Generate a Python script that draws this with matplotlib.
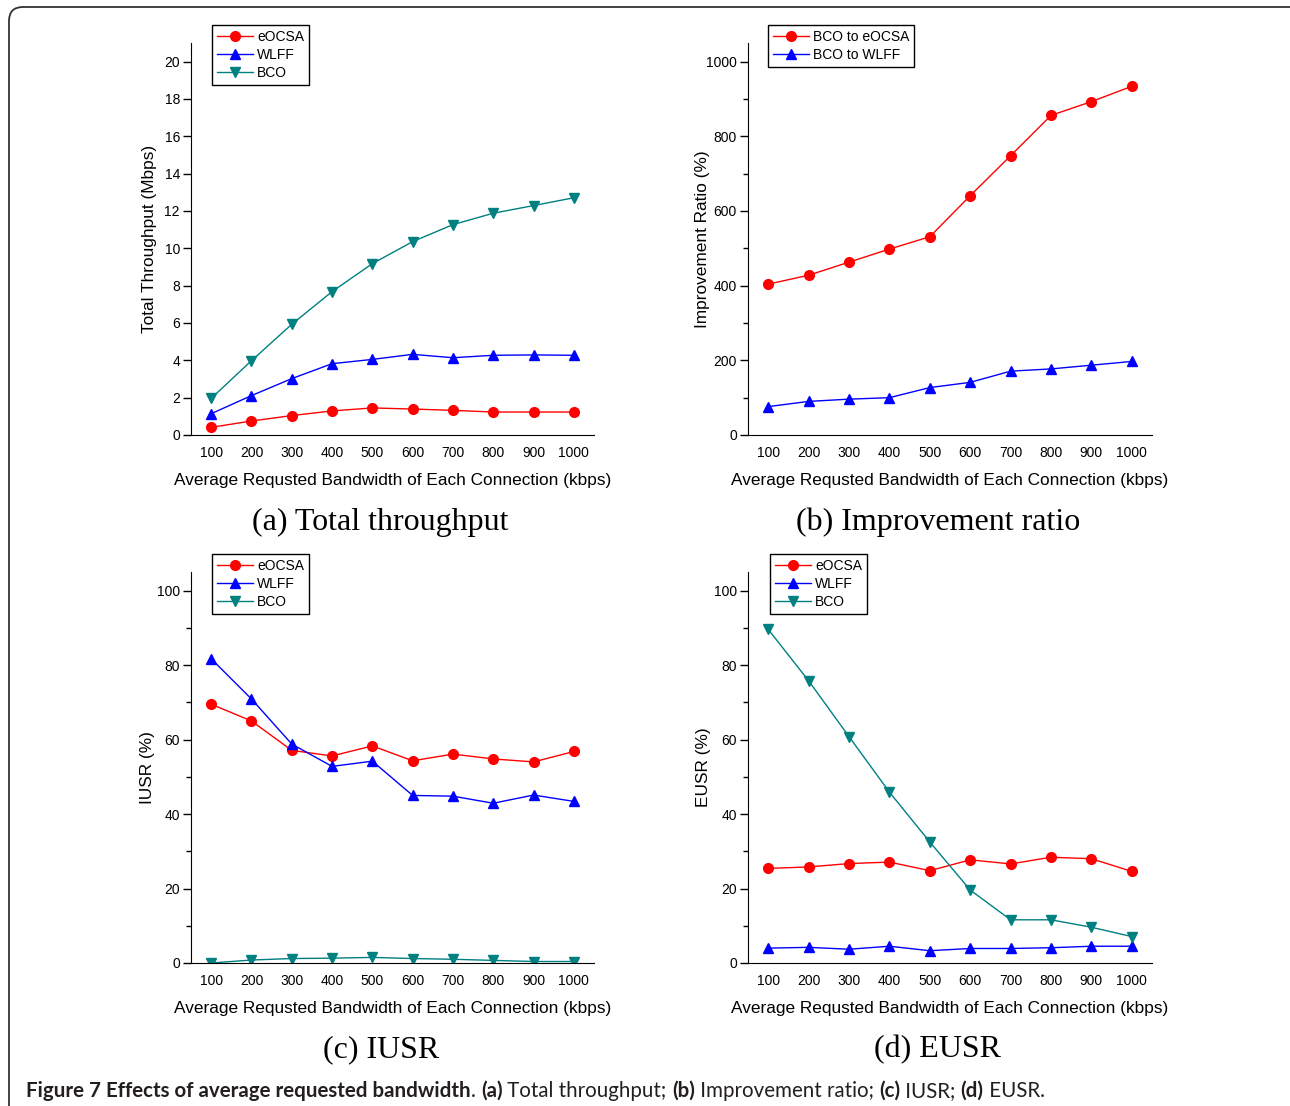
import matplotlib
matplotlib.use('Agg')
import matplotlib.pyplot as plt  # Plotting
import numpy as np  # Arrays
from matplotlib.patches import FancyBboxPatch
from matplotlib.transforms import IdentityTransform

# Data
bandwidth = [100, 200, 300, 400, 500, 600, 700, 800, 900, 1000]

thr_eocsa = [0.41, 0.75, 1.04, 1.29, 1.45, 1.39, 1.32, 1.23, 1.23, 1.23]
thr_wlff = [1.14, 2.11, 3.02, 3.82, 4.05, 4.32, 4.14, 4.27, 4.29, 4.27]
thr_bco = [1.96, 3.98, 5.93, 7.68, 9.18, 10.36, 11.27, 11.88, 12.29, 12.71]

imp_eocsa = [404, 428, 463, 498, 531, 641, 748, 856, 893, 934]
imp_wlff = [76, 90, 96, 100, 127, 141, 171, 177, 187, 197]

iusr_eocsa = [69.5, 65.0, 57.1, 55.6, 58.3, 54.3, 56.1, 54.8, 54.0, 56.8]
iusr_wlff = [81.7, 70.9, 58.8, 52.8, 54.2, 45.0, 44.8, 42.9, 45.1, 43.4]
iusr_bco = [0.0, 0.8, 1.2, 1.3, 1.5, 1.2, 1.0, 0.7, 0.4, 0.4]

eusr_eocsa = [25.4, 25.8, 26.7, 27.1, 24.8, 27.7, 26.6, 28.4, 28.0, 24.6]
eusr_wlff = [4.0, 4.2, 3.7, 4.5, 3.3, 3.9, 3.9, 4.1, 4.5, 4.5]
eusr_bco = [89.6, 75.8, 60.8, 45.9, 32.5, 19.6, 11.6, 11.6, 9.6, 7.1]

RED = '#ff0000'
BLUE = '#0000ff'
TEAL = '#008080'

plt.rcParams['font.family'] = ['Liberation Sans', 'DejaVu Sans']

W, H = 1290, 1106
fig = plt.figure(figsize=(W / 100, H / 100), dpi=100)

# frame round the whole figure
frame = FancyBboxPatch((9, -30), 1310, H - 7 + 30,
                       boxstyle="round,pad=0,rounding_size=14",
                       transform=IdentityTransform(), facecolor='none',
                       edgecolor='#333333', linewidth=1.3)
fig.add_artist(frame)


def px_axes(left, top, right, bottom):
    return fig.add_axes([left / W, 1 - bottom / H, (right - left) / W, (bottom - top) / H])


def style_axes(ax, ylim, major, ylabel, label_gap):
    ax.set_xlim(50, 1050)
    ax.set_ylim(0, ylim)
    ax.set_xticks(bandwidth)
    ax.set_yticks(np.arange(0, ylim, major))
    ax.set_yticks(np.arange(major / 2, ylim, major), minor=True)
    ax.spines['top'].set_visible(False)
    ax.spines['right'].set_visible(False)
    ax.tick_params(axis='x', length=0, pad=8, labelsize=10)
    ax.tick_params(axis='y', which='major', length=6, width=1, direction='out', pad=2, labelsize=10)
    ax.tick_params(axis='y', which='minor', length=3.5, width=1, direction='out')
    ax.set_xlabel('Average Requsted Bandwidth of Each Connection (kbps)', fontsize=12.4, labelpad=9)
    ax.set_ylabel(ylabel, fontsize=12.4)
    ax.yaxis.set_label_coords(-label_gap / 403, 0.5)


def legend_at(ax, left, top):
    ax.legend(loc='upper left', bbox_to_anchor=(left / W, 1 - top / H),
              bbox_transform=fig.transFigure, frameon=True, fancybox=False,
              edgecolor='black', fontsize=10, handlelength=2.6, handletextpad=0.3,
              labelspacing=0.3, borderpad=0.35, borderaxespad=0, framealpha=1)


mk = dict(markersize=7, linewidth=1)

# (a) Total throughput
ax = px_axes(191, 43, 594, 435)
ax.plot(bandwidth, thr_eocsa, color=RED, marker='o', label='eOCSA', **mk)
ax.plot(bandwidth, thr_wlff, color=BLUE, marker='^', label='WLFF', **mk)
ax.plot(bandwidth, thr_bco, color=TEAL, marker='v', label='BCO', **mk)
style_axes(ax, 21, 2, 'Total Throughput (Mbps)', 34)
ax.set_yticks(np.arange(0, 21, 2))
ax.set_yticks([], minor=True)
legend_at(ax, 212, 25)

# (b) Improvement ratio
ax = px_axes(748, 43, 1152, 435)
ax.plot(bandwidth, imp_eocsa, color=RED, marker='o', label='BCO to eOCSA', **mk)
ax.plot(bandwidth, imp_wlff, color=BLUE, marker='^', label='BCO to WLFF', **mk)
style_axes(ax, 1050, 200, 'Improvement Ratio (%)', 38)
legend_at(ax, 768, 25)

# (c) IUSR
ax = px_axes(191, 572, 594, 963)
ax.plot(bandwidth, iusr_eocsa, color=RED, marker='o', label='eOCSA', **mk)
ax.plot(bandwidth, iusr_wlff, color=BLUE, marker='^', label='WLFF', **mk)
ax.plot(bandwidth, iusr_bco, color=TEAL, marker='v', label='BCO', **mk)
style_axes(ax, 105, 20, 'IUSR (%)', 36)
legend_at(ax, 212, 554)

# (d) EUSR
ax = px_axes(748, 572, 1152, 963)
ax.plot(bandwidth, eusr_eocsa, color=RED, marker='o', label='eOCSA', **mk)
ax.plot(bandwidth, eusr_wlff, color=BLUE, marker='^', label='WLFF', **mk)
ax.plot(bandwidth, eusr_bco, color=TEAL, marker='v', label='BCO', **mk)
style_axes(ax, 105, 20, 'EUSR (%)', 37)
legend_at(ax, 770, 554)

# panel titles
serif = ['Liberation Serif', 'DejaVu Serif']
fig.text(380 / W, 1 - 522 / H, '(a) Total throughput', family=serif, fontsize=23, ha='center', va='center')
fig.text(938 / W, 1 - 522 / H, '(b) Improvement ratio', family=serif, fontsize=23, ha='center', va='center')
fig.text(381 / W, 1 - 1050 / H, '(c) IUSR', family=serif, fontsize=23, ha='center', va='center')
fig.text(938 / W, 1 - 1050 / H, '(d) EUSR', family=serif, fontsize=23, ha='center', va='center')

# caption, built piece by piece
pieces = [('Figure 7 Effects of average requested bandwidth', 'bold'), ('. ', 'normal'),
          ('(a)', 'bold'), (' Total throughput; ', 'normal'),
          ('(b)', 'bold'), (' Improvement ratio; ', 'normal'),
          ('(c)', 'bold'), (' IUSR; ', 'normal'),
          ('(d)', 'bold'), (' EUSR.', 'normal')]
renderer = fig.canvas.get_renderer()
x = 26
for txt, wt in pieces:
    t = fig.text(x / W, 1 - 1091 / H, txt, family=['Lato', 'DejaVu Sans'], fontsize=14.8,
                 weight=wt, color='#231f20', ha='left', va='center')
    x += t.get_window_extent(renderer).width

fig.savefig('out.png', dpi=100)
